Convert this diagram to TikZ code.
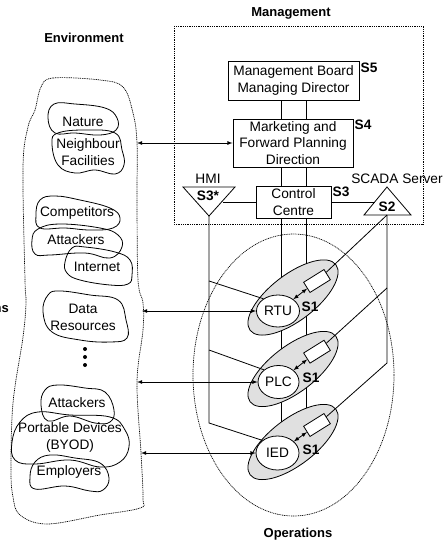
\documentclass[tikz,border=0pt]{standalone}
\usepackage{fontspec}
\setmainfont{Liberation Sans}
\usetikzlibrary{arrows,shapes.geometric}
\tikzset{
  every node/.style={font=\fontsize{13.7}{16.5}\selectfont,align=center,inner sep=0pt},
  heading/.style={font=\fontsize{13}{16}\selectfont\bfseries},
  tag/.style={font=\fontsize{13.7}{16}\selectfont\bfseries},
  board/.style={draw,line width=0.9pt,fill=white},
  zone/.style={draw,line width=0.7pt,dash pattern=on 1pt off 0.8pt},
  blob/.style={draw,line width=0.8pt},
  link/.style={draw,line width=0.8pt},
  both/.style={draw,line width=0.8pt,latex-latex},
  group/.style={draw,ellipse,fill=black!12,line width=0.8pt,rotate=37.5,minimum width=108pt,minimum height=46pt},
  device/.style={draw,ellipse,fill=white,line width=0.8pt},
  port/.style={draw,fill=white,line width=0.8pt,rotate=32,minimum width=24pt,minimum height=12pt}
}
\begin{document}
\begin{tikzpicture}[x=1pt,y=-1pt]
  \useasboundingbox (0,0) rectangle (443,543);
  % zones
  \draw[zone] (174,26) rectangle (423,224);
  \node[zone,ellipse,minimum width=201pt,minimum height=282pt] (opzone) at (293.5,375) {};
  \draw[zone] plot[smooth cycle,tension=0.6] coordinates {(41,87) (53,78) (100,80) (123,87) (133,113) (137,143)
    (137,200) (138,280) (143,303) (143,330) (137,382) (141,453) (143,498) (140,508) (100,515) (47,524)
    (20,515) (13,497) (11,470) (13,403) (23,337) (26,303) (25,280) (23,167) (28,127) (35,110)};
  \node[heading] (envlabel) at (84,38) {Environment};
  \node[heading] (mgmtlabel) at (291,13) {Management};
  \node[heading] (oplabel) at (298,534) {Operations};
  \node[heading,anchor=east] (cutlabel) at (9,309) {ns};
  % free ends
  \coordinate (lineA) at (281,0);
  \coordinate (lineB) at (306,0);
  \coordinate (envA) at (137,143);
  \coordinate (envB) at (142,311);
  \coordinate (envC) at (137,382);
  \coordinate (envD) at (141,453);
  \coordinate (hmiL) at (183,187);
  \coordinate (hmiR) at (235,187);
  \coordinate (hmiT) at (209,216);
  \coordinate (hmiE) at (223,202);
  \coordinate (scaT) at (387,187);
  \coordinate (scaL) at (364,215);
  \coordinate (scaR) at (411,215);
  \coordinate (scaB) at (387,215);
  \coordinate (scaE) at (375,202);
  \coordinate (hmiA) at (209,281);
  \coordinate (hmiB) at (209,350);
  \coordinate (hmiC) at (209,423);
  \coordinate (scaA) at (387,288);
  \coordinate (scaC) at (387,363);
  \coordinate (iedmid) at (293,442);
  % management boxes
  \node[board,minimum width=131pt,minimum height=39pt] (mboard) at (293.5,80.5) {Management Board\\Managing Director};
  \node[board,minimum width=120pt,minimum height=48pt] (market) at (293,143) {Marketing and\\Forward Planning\\Direction};
  \node[board,minimum width=75pt,minimum height=32pt] (control) at (293.5,202) {Control\\Centre};
  \node[tag] (sfive) at (369,68) {S5};
  \node[tag] (sfour) at (363,125) {S4};
  \node[tag] (sthree) at (341,192) {S3};
  \draw[link] (mboard.south -| lineA) -- (market.north -| lineA);
  \draw[link] (mboard.south -| lineB) -- (market.north -| lineB);
  \draw[link] (market.south -| lineA) -- (control.north -| lineA);
  \draw[link] (market.south -| lineB) -- (control.north -| lineB);
  \draw[link] (control.south -| lineA) -- (iedmid -| lineA);
  \draw[link] (control.south -| lineB) -- (iedmid -| lineB);
  % operations groups
  \node[group] (rtuarea) at (293,297.5) {};
  \node[group] (plcarea) at (293,369) {};
  \node[group] (iedarea) at (293,442) {};
  \node[port] (rtuport) at (317,281) {};
  \node[port] (plcport) at (317,351.7) {};
  \node[port] (iedport) at (317,425) {};
  \node[device,minimum width=43pt,minimum height=32pt] (rtu) at (278,311) {RTU};
  \node[device,minimum width=41pt,minimum height=33pt] (plc) at (278.5,382) {PLC};
  \node[device,minimum width=43pt,minimum height=34pt] (ied) at (277.5,453) {IED};
  \node[tag] (sonea) at (310,307) {S1};
  \node[tag] (soneb) at (311,378) {S1};
  \node[tag] (sonec) at (311,450) {S1};
  % triangles
  \draw[link] (hmiL) -- (hmiR) -- (hmiT) -- cycle;
  \draw[link] (scaT) -- (scaR) -- (scaL) -- cycle;
  \node (hmilabel) at (208,179) {HMI};
  \node[tag] (sthreestar) at (208,196) {S3*};
  \node (scalabel) at (397,179) {SCADA Server};
  \node[tag] (stwo) at (387,207) {S2};
  \draw[link] (hmiE) -- (control.west);
  \draw[link] (control.east) -- (scaE);
  % bus lines
  \draw[link] (hmiT) -- (hmiC) -- (ied.140);
  \draw[link] (hmiA) -- (rtu.140);
  \draw[link] (hmiB) -- (plc.140);
  \draw[link] (scaB) -- (scaC) -- (iedport);
  \draw[link] (scaA) -- (plcport);
  \draw[link] (scaB) -- (rtuport);
  % port links
  \draw[both] (rtu) -- (rtuport);
  \draw[both] (plc) -- (plcport);
  \draw[both] (ied) -- (iedport);
  % environment links
  \draw[both] (envA) -- (market.west);
  \draw[both] (envB) -- (rtu.west);
  \draw[both] (envC) -- (plc.west);
  \draw[both] (envD) -- (ied.west);
  % environment clouds
  \draw[blob] plot[smooth cycle,tension=0.7] coordinates {(48,118) (54,104) (75,104) (105,108) (117,118) (116,130) (100,135) (75,133) (55,133)};
  \node (nature) at (83,122) {Nature};
  \draw[blob] plot[smooth cycle,tension=0.7] coordinates {(52,143) (58,133) (85,130) (115,133) (122,150) (124,165) (115,174) (95,170) (75,173) (58,165)};
  \node (neigh) at (88,152) {Neighbour\\Facilities};
  \draw[blob] plot[smooth cycle,tension=0.7] coordinates {(36,215) (40,200) (55,196) (80,200) (110,208) (120,218) (113,228) (90,230) (65,228) (40,228)};
  \node (compet) at (77,213) {Competitors};
  \draw[blob] plot[smooth cycle,tension=0.7] coordinates {(32,240) (38,229) (60,224) (100,228) (118,235) (122,247) (110,258) (85,253) (50,255) (35,254)};
  \node (attacka) at (76,240) {Attackers};
  \draw[blob] plot[smooth cycle,tension=0.7] coordinates {(65,262) (72,248) (85,247) (115,252) (130,260) (132,275) (128,284) (110,285) (80,280) (67,273)};
  \node (inet) at (97,267) {Internet};
  \draw[blob] plot[smooth cycle,tension=0.7] coordinates {(43,312) (48,295) (60,291) (90,295) (118,300) (126,320) (127,338) (110,342) (80,340) (52,332)};
  \node (data) at (83,317.5) {Data\\Resources};
  \fill (85,349) circle (2pt) (85,357) circle (2pt) (85,365) circle (2pt);
  \draw[blob] plot[smooth cycle,tension=0.7] coordinates {(41,405) (45,390) (58,385) (85,388) (105,392) (114,410) (110,422) (95,423) (70,416) (48,421)};
  \node (attackb) at (77,403) {Attackers};
  \draw[blob] plot[smooth cycle,tension=0.7] coordinates {(12,442) (20,422) (38,412) (70,415) (110,417) (125,430) (129,447) (120,462) (100,467) (70,460) (35,464) (15,460)};
  \node (byod) at (70,437.5) {Portable Devices\\(BYOD)};
  \draw[blob] plot[smooth cycle,tension=0.7] coordinates {(30,477) (35,462) (50,455) (75,458) (100,463) (109,478) (103,490) (90,491) (65,486) (35,489)};
  \node (employ) at (69,472) {Employers};
\end{tikzpicture}
\end{document}
